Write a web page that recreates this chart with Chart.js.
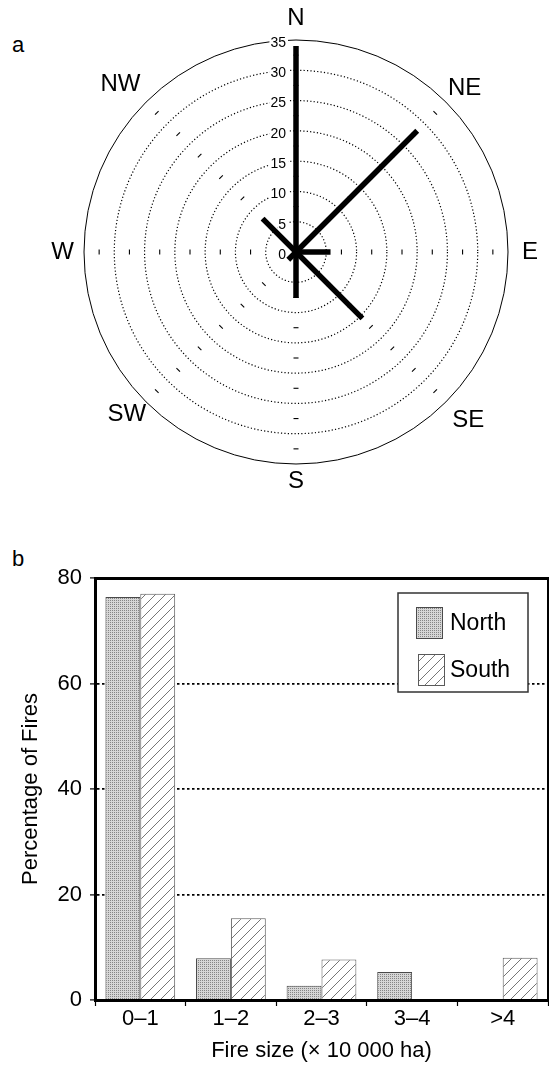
<!DOCTYPE html>
<html>
<head>
<meta charset="utf-8">
<script src="https://cdn.jsdelivr.net/npm/chart.js@4.4.1/dist/chart.umd.min.js"></script>
<style>
  html, body { margin: 0; padding: 0; background: #fff; overflow: hidden; }
  body { width: 549px; height: 1068px; position: relative; font-family: 'Liberation Sans', Arial, sans-serif; }
  canvas { position: absolute; left: 0; }
  #rose { top: 0; }
  #sizes { top: 500px; }
  .panel { position: absolute; left: 12px; font-size: 22px; line-height: 22px; color: #000; }
</style>
</head>
<body>
<div class="panel" style="top:34px">a</div>
<div class="panel" style="top:548px">b</div>
<canvas id="rose" width="549" height="500"></canvas>
<canvas id="sizes" width="549" height="568"></canvas>
<script>
// rose of fire directions (a)
const directions = ['N', 'NE', 'E', 'SE', 'S', 'SW', 'W', 'NW'];
const fireFrequency = [34, 28.3, 5.7, 15.5, 7.6, 1.8, 0, 7.8];
const roseTicks = [0, 5, 10, 15, 20, 25, 30, 35];

// fire size classes (b)
const sizeClasses = ['0–1', '1–2', '2–3', '3–4', '>4'];
const northPct = [76.4, 7.9, 2.7, 5.3, 0];
const southPct = [77.0, 15.5, 7.7, 0, 8.0];
const pctTicks = [0, 20, 40, 60, 80];

const family = "'Liberation Sans', Arial, sans-serif";
Chart.defaults.font.family = family;
Chart.defaults.color = '#000';

// petites marques + valeurs des cercles
const roseMarks = {
    id: 'roseMarks',
    beforeDatasetsDraw(chart) {
        const s = chart.scales.r;
        const ctx = chart.ctx;
        ctx.save();
        ctx.strokeStyle = '#000';
        ctx.lineWidth = 1.1;
        for (let i = 0; i < directions.length; i++) {
            const a = s.getIndexAngle(i) - Math.PI / 2;
            for (let k = 1; k < s.ticks.length - 1; k++) {
                const v = (s.ticks[k].value + s.ticks[k + 1].value) / 2;
                const p = s.getPointPositionForValue(i, v);
                const tx = -Math.sin(a) * 2.5, ty = Math.cos(a) * 2.5;
                ctx.beginPath();
                ctx.moveTo(p.x - tx, p.y - ty);
                ctx.lineTo(p.x + tx, p.y + ty);
                ctx.stroke();
            }
        }
        ctx.font = '14px ' + family;
        ctx.textAlign = 'right';
        ctx.textBaseline = 'middle';
        s.ticks.forEach(t => {
            const y = s.yCenter - s.getDistanceFromCenterForValue(t.value) + 3;
            const x = s.xCenter - 10;
            const w = ctx.measureText(t.label).width;
            ctx.fillStyle = '#fff';
            ctx.fillRect(x - w - 1, y - 6, w + 3, 12);
            ctx.fillStyle = '#000';
            ctx.fillText(t.label, x, y);
        });
        ctx.restore();
    }
};

const spokes = directions.map((d, i) => ({
    label: d,
    data: directions.map((_, j) => (j === i ? fireFrequency[i] : 0)),
    borderColor: '#000',
    borderWidth: 5.5,
    borderJoinStyle: 'bevel',
    pointRadius: 0,
    fill: false
}));

new Chart(document.getElementById('rose'), {
    type: 'radar',
    data: { labels: directions, datasets: spokes },
    options: {
        responsive: false,
        animation: false,
        layout: { padding: { left: 49, right: 8, top: 4, bottom: 4 } },
        plugins: { legend: { display: false }, tooltip: { enabled: false } },
        scales: {
            r: {
                min: roseTicks[0],
                max: roseTicks[roseTicks.length - 1],
                ticks: { display: false, stepSize: roseTicks[1] - roseTicks[0] },
                grid: { circular: true, color: '#000', lineWidth: c => (c.tick && c.tick.value === 35 ? 1 : 1.2) },
                border: { dash: c => (c.tick && c.tick.value === 35 ? [] : [1.2, 2.2]) },
                angleLines: { display: false },
                pointLabels: {
                    color: '#000',
                    font: { size: 24, lineHeight: 1 },
                    padding: c => [10, 3, 14, 9, 5, 0, 10, 8][c.index]
                }
            }
        }
    },
    plugins: [roseMarks]
});

// motifs des barres
function stipple() {
    const c = document.createElement('canvas');
    c.width = 2; c.height = 2;
    const g = c.getContext('2d');
    g.fillStyle = '#d6d6d6'; g.fillRect(0, 0, 2, 2);
    g.fillStyle = '#858585'; g.fillRect(0, 0, 1, 1);
    return g.createPattern(c, 'repeat');
}
function hatch() {
    const c = document.createElement('canvas');
    c.width = 10; c.height = 10;
    const g = c.getContext('2d');
    g.fillStyle = '#fff'; g.fillRect(0, 0, 10, 10);
    g.strokeStyle = '#666'; g.lineWidth = 0.9;
    g.beginPath();
    g.moveTo(0, 10); g.lineTo(10, 0);
    g.moveTo(-1, 1); g.lineTo(1, -1);
    g.moveTo(9, 11); g.lineTo(11, 9);
    g.stroke();
    return g.createPattern(c, 'repeat');
}

const boxLegend = {
    id: 'boxLegend',
    afterDraw(chart) {
        const { ctx, chartArea: a } = chart;
        const x = a.left + 303, y = a.top + 15, w = 130, h = 99;
        ctx.save();
        ctx.fillStyle = '#fff';
        ctx.fillRect(x, y, w, h);
        ctx.strokeStyle = '#333';
        ctx.lineWidth = 1.5;
        ctx.strokeRect(x, y, w, h);
        ctx.font = '23px ' + family;
        ctx.textAlign = 'left';
        ctx.textBaseline = 'middle';
        chart.data.datasets.forEach((ds, i) => {
            const sx = x + 18 + i * 2, sy = y + 14 + i * 47;
            ctx.fillStyle = ds.backgroundColor;
            ctx.fillRect(sx, sy, 27, 32);
            ctx.strokeStyle = ds.borderColor;
            ctx.lineWidth = 1;
            ctx.strokeRect(sx + 0.5, sy + 0.5, 26, 31);
            ctx.fillStyle = '#000';
            ctx.fillText(ds.label, x + 52, sy + 17);
        });
        ctx.restore();
    }
};

new Chart(document.getElementById('sizes'), {
    type: 'bar',
    data: {
        labels: sizeClasses,
        datasets: [
            { label: 'North', data: northPct, backgroundColor: stipple(), borderColor: '#4a4a4a', borderWidth: 1 },
            { label: 'South', data: southPct, backgroundColor: hatch(), borderColor: '#5a5a5a', borderWidth: 1 }
        ]
    },
    options: {
        responsive: false,
        animation: false,
        layout: { padding: { top: 78, right: 1, bottom: 0, left: 0 } },
        datasets: { bar: { categoryPercentage: 0.77, barPercentage: 1 } },
        plugins: { legend: { display: false }, tooltip: { enabled: false } },
        scales: {
            x: {
                ticks: { color: '#000', font: { size: 22 }, padding: 0 },
                grid: { drawOnChartArea: false, tickLength: 6, tickColor: '#000', tickWidth: 1.2 },
                border: { color: '#000', width: 3 },
                title: { display: true, text: 'Fire size (× 10 000 ha)', color: '#000', font: { size: 22 }, padding: { top: 0, bottom: 4 } },
                afterFit(s) { s.height = 68; }
            },
            y: {
                min: pctTicks[0],
                max: pctTicks[pctTicks.length - 1],
                ticks: { stepSize: pctTicks[1] - pctTicks[0], color: '#000', font: { size: 22 }, padding: 8 },
                grid: {
                    color: c => (c.tick && c.tick.value > 0 && c.tick.value < 80 ? '#000' : 'rgba(0,0,0,0)'),
                    lineWidth: 1.8,
                    tickColor: '#000',
                    tickLength: 5,
                    tickWidth: 1.2
                },
                border: { color: '#000', width: 3, dash: [2.5, 2.5] },
                title: { display: true, text: 'Percentage of Fires', color: '#000', font: { size: 22 }, padding: { top: 18, bottom: 0 } },
                afterFit(s) { s.width = 95; }
            },
            x2: {
                type: 'category',
                position: 'top',
                grid: { display: false },
                ticks: { display: false },
                border: { color: '#000', width: 3 },
                afterFit(s) { s.height = 0; }
            },
            y2: {
                type: 'linear',
                position: 'right',
                min: 0, max: 80,
                grid: { display: false },
                ticks: { display: false },
                border: { color: '#000', width: 2 },
                afterFit(s) { s.width = 0; }
            }
        }
    },
    plugins: [boxLegend]
});
</script>
</body>
</html>
